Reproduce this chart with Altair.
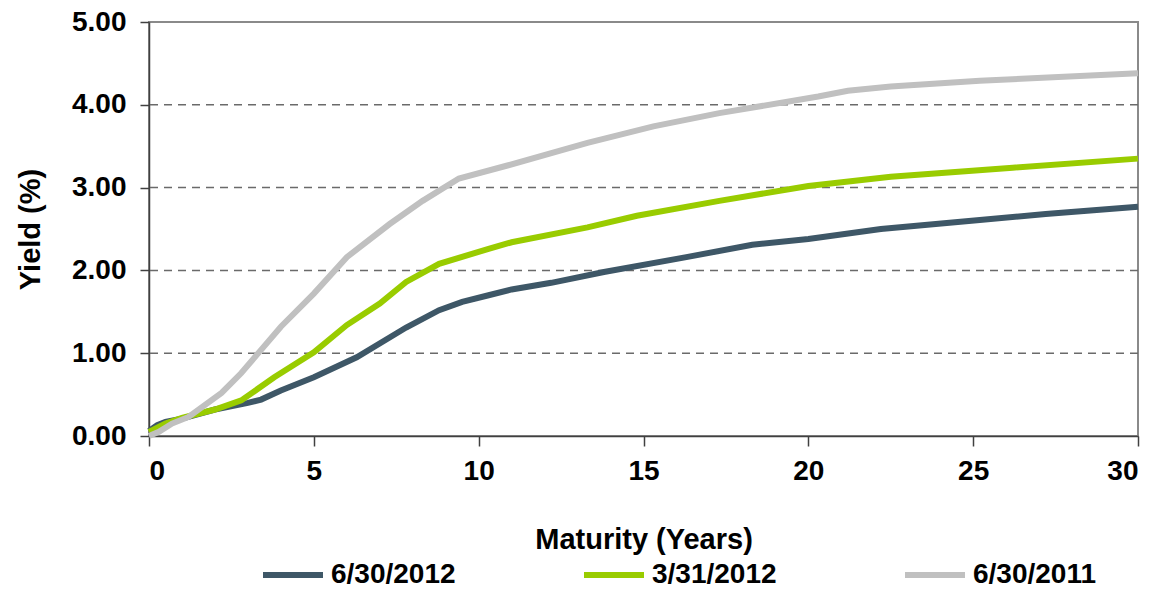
import altair as alt
import pandas as pd

series_names = ["6/30/2012", "3/31/2012", "6/30/2011"]
series_colors = ["#3E5767", "#99CC00", "#C0C0C0"]

mat_2012_06 = [0, 0.25, 0.5, 1, 2, 3, 3.4, 4, 5, 6.3, 7.8, 8.8, 9.5, 10.3, 11, 12.2, 13.8, 16.3, 18.3, 20, 22.2, 25.2, 27.2, 30]
yld_2012_06 = [0.06, 0.13, 0.17, 0.21, 0.32, 0.40, 0.44, 0.55, 0.71, 0.95, 1.31, 1.52, 1.62, 1.70, 1.77, 1.85, 1.98, 2.16, 2.31, 2.38, 2.50, 2.61, 2.68, 2.77]

mat_2012_03 = [0, 0.25, 0.5, 1, 2, 2.8, 3.8, 5, 6, 7, 7.8, 8.8, 10.3, 11, 13.3, 14.8, 17.3, 20, 22.5, 26.2, 30]
yld_2012_03 = [0.05, 0.10, 0.15, 0.22, 0.32, 0.43, 0.71, 1.01, 1.34, 1.60, 1.86, 2.08, 2.26, 2.34, 2.52, 2.66, 2.84, 3.02, 3.13, 3.24, 3.35]

mat_2011_06 = [0, 0.3, 0.7, 1.2, 2.2, 2.8, 3.4, 4, 5, 6, 7.3, 8.3, 9.4, 10.9, 13.3, 15.3, 17.3, 20.3, 21.2, 22.5, 25.2, 30]
yld_2011_06 = [0.0, 0.05, 0.15, 0.23, 0.52, 0.76, 1.04, 1.32, 1.72, 2.16, 2.56, 2.84, 3.11, 3.27, 3.54, 3.74, 3.90, 4.10, 4.17, 4.22, 4.29, 4.38]

x_ticks = [0, 5, 10, 15, 20, 25, 30]
y_ticks = [0, 1, 2, 3, 4, 5]
grid_vals = [1, 2, 3, 4]

rows = []
for i, (name, mats, ylds) in enumerate([
    (series_names[0], mat_2012_06, yld_2012_06),
    (series_names[1], mat_2012_03, yld_2012_03),
    (series_names[2], mat_2011_06, yld_2011_06),
]):
    for m, y in zip(mats, ylds):
        rows.append({"series": name, "order": i, "maturity": m, "yield": y})
df = pd.DataFrame(rows)
grid_df = pd.DataFrame({"g": grid_vals})

FONT = "Arial, Liberation Sans, sans-serif"

x_scale = alt.Scale(domain=[0, 30], nice=False, zero=True)
y_scale = alt.Scale(domain=[0, 5], nice=False)

y_axis = alt.Axis(values=y_ticks, title="Yield (%)", grid=False, format=".2f",
                  tickSize=9, labelPadding=14, titlePadding=26)
x_axis = alt.Axis(values=x_ticks, title="Maturity (Years)", grid=False,
                  tickSize=10, labelPadding=11, titlePadding=40, format="d")

grid = alt.Chart(grid_df).mark_rule(
    color="#6A6A6A", strokeDash=[8, 6], strokeWidth=1.5
).encode(
    y=alt.Y("g:Q", scale=y_scale, axis=y_axis, title="Yield (%)")
)

lines = alt.Chart(df).mark_line(strokeWidth=6, interpolate="linear").encode(
    x=alt.X("maturity:Q", scale=x_scale, axis=x_axis),
    y=alt.Y("yield:Q", scale=y_scale, axis=y_axis, title="Yield (%)"),
    color=alt.Color(
        "series:N",
        scale=alt.Scale(domain=series_names, range=series_colors),
        sort=series_names,
        legend=alt.Legend(
            title=None, orient="none", direction="horizontal",
            legendX=111, legendY=520,
            symbolType="stroke", symbolSize=3600, symbolStrokeWidth=6,
            labelFontSize=28, labelFont=FONT, labelFontWeight="bold",
            labelColor="#000000", labelOffset=5, columnPadding=116,
            padding=0, labelLimit=300,
        ),
    ),
    order=alt.Order("order:Q"),
)

chart = alt.layer(grid, lines).properties(
    width=989, height=414,
    autosize=alt.AutoSizeParams(type="none"),
    padding={"left": 141, "top": 14, "right": 10, "bottom": 156},
).configure_view(
    stroke="#8A8A8A", strokeWidth=2
).configure_axis(
    labelFont=FONT, labelFontSize=28, labelFontWeight="bold", labelColor="#000000",
    titleFont=FONT, titleFontSize=29, titleFontWeight="bold", titleColor="#000000",
    domainColor="#404040", domainWidth=1.5, tickColor="#404040", tickWidth=1.5,
)

chart.save("out.html", embed_options={"renderer": "svg", "actions": False})
